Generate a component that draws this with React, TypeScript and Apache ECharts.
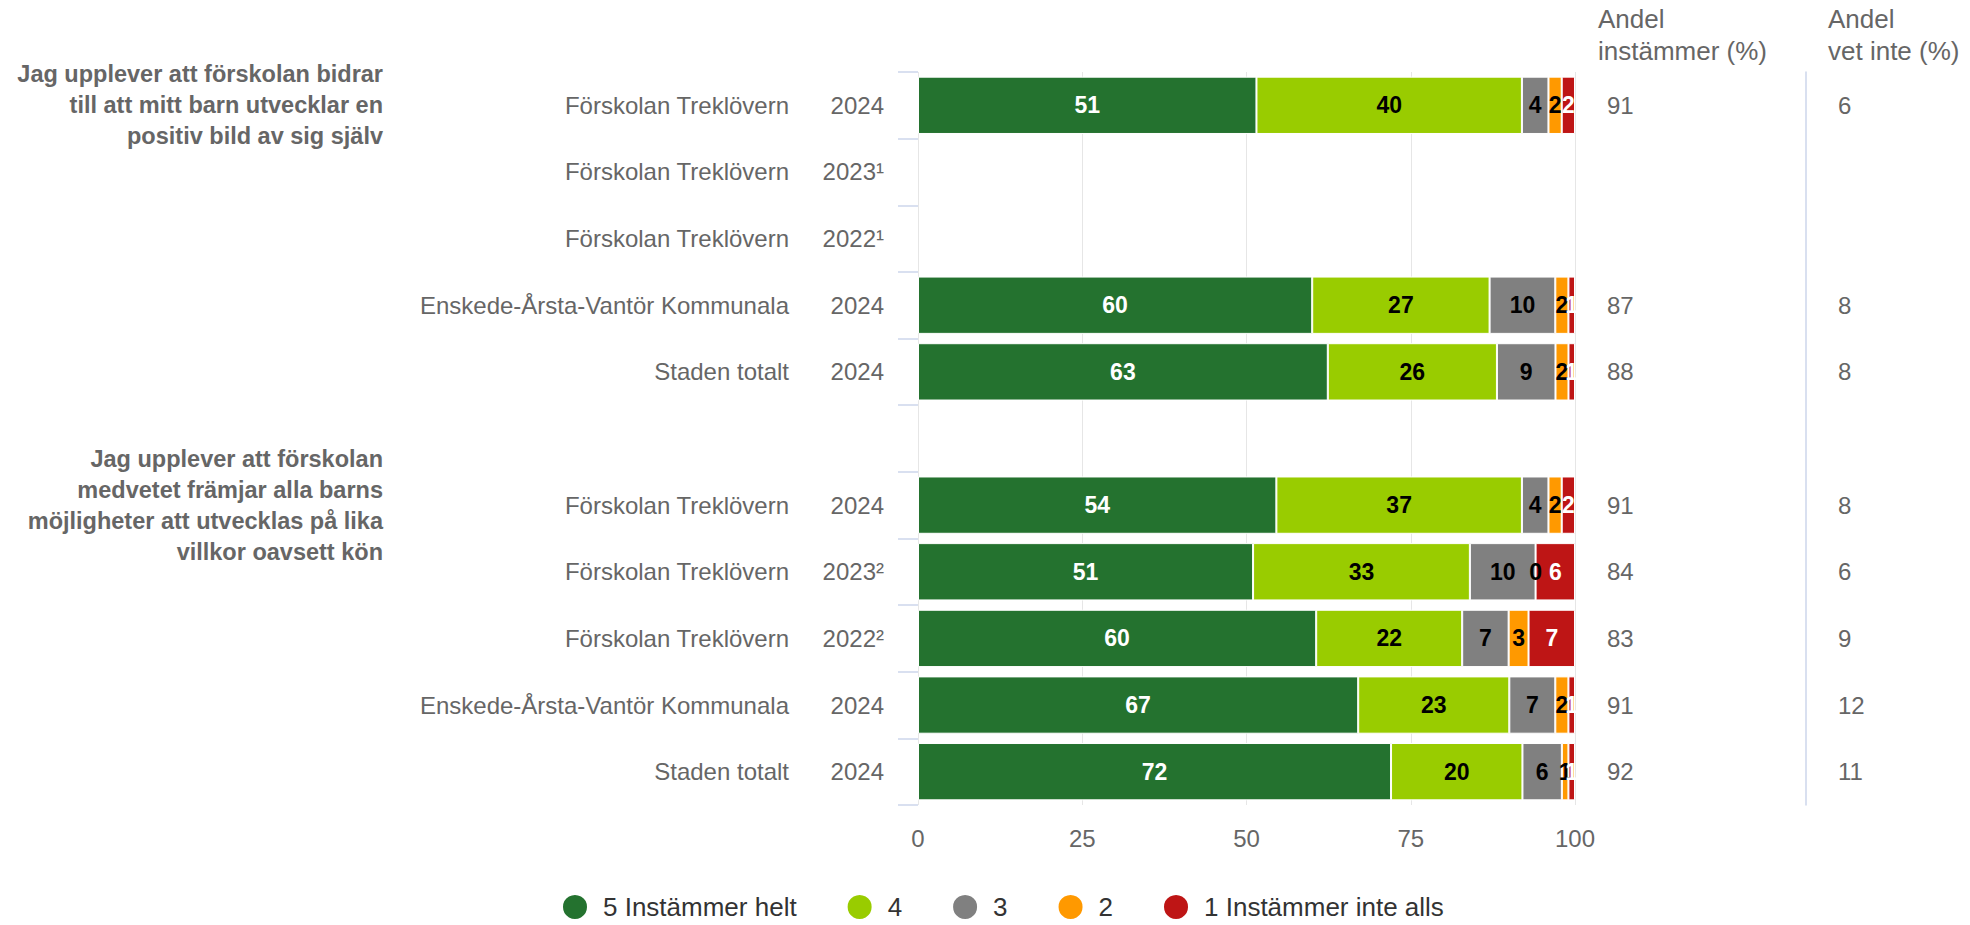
import React, { useEffect, useRef } from "react";
import * as echarts from "echarts";

const FONT = "'Liberation Sans', Arial, sans-serif";

const groupTitles = [
  "Jag upplever att förskolan bidrar\ntill att mitt barn utvecklar en\npositiv bild av sig själv",
  "", "", "", "", "",
  "Jag upplever att förskolan\nmedvetet främjar alla barns\nmöjligheter att utvecklas på lika\nvillkor oavsett kön",
  "", "", "", "",
];
const units = [
  "Förskolan Treklövern",
  "Förskolan Treklövern",
  "Förskolan Treklövern",
  "Enskede-Årsta-Vantör Kommunala",
  "Staden totalt",
  "",
  "Förskolan Treklövern",
  "Förskolan Treklövern",
  "Förskolan Treklövern",
  "Enskede-Årsta-Vantör Kommunala",
  "Staden totalt",
];
const years = ["2024", "2023¹", "2022¹", "2024", "2024", "", "2024", "2023²", "2022²", "2024", "2024"];

const seriesNames = ["5 Instämmer helt", "4", "3", "2", "1 Instämmer inte alls"];
const seriesColors = ["#24722F", "#99CC00", "#808080", "#FF9900", "#BE1515"];
const labelColors = ["#ffffff", "#000000", "#000000", "#000000", "#ffffff"];

const s5 = [51, null, null, 60, 63, null, 54, 51, 60, 67, 72];
const s4 = [40, null, null, 27, 26, null, 37, 33, 22, 23, 20];
const s3 = [4, null, null, 10, 9, null, 4, 10, 7, 7, 6];
const s2 = [2, null, null, 2, 2, null, 2, 0, 3, 2, 1];
const s1 = [2, null, null, 1, 1, null, 2, 6, 7, 1, 1];
const seriesValues = [s5, s4, s3, s2, s1];

const shareAgree = [91, null, null, 87, 88, null, 91, 84, 83, 91, 92];
const shareDontKnow = [6, null, null, 8, 8, null, 8, 6, 9, 12, 11];

const xTicks = { min: 0, max: 100, interval: 25 };

export default function App() {
  const ref = useRef<HTMLDivElement>(null);

  useEffect(() => {
    if (!ref.current) return;
    const chart = echarts.init(ref.current, undefined, { renderer: "svg" });

    const idx = years.map((_, i) => String(i));
    const totals = years.map((_, i) =>
      seriesValues.reduce((acc, arr) => acc + (arr[i] ?? 0), 0)
    );

    const baseCat = {
      type: "category" as const,
      inverse: true,
      data: idx,
      axisLine: { show: false },
      axisTick: { show: false },
      splitLine: { show: false },
    };

    const option: any = {
      animation: false,
      textStyle: { fontFamily: FONT },
      grid: { left: 918, right: 395, top: 72, bottom: 120, containLabel: false },
      legend: {
        data: seriesNames,
        icon: "circle",
        symbolKeepAspect: true,
        itemWidth: 46,
        itemHeight: 26,
        itemGap: 49,
        left: 556,
        top: 888,
        textStyle: { fontSize: 26, color: "#333333", fontFamily: FONT },
      },
      xAxis: {
        type: "value",
        min: xTicks.min,
        max: xTicks.max,
        interval: xTicks.interval,
        axisLine: { show: false },
        axisTick: { show: false },
        axisLabel: { fontSize: 24, color: "#666666", margin: 21, fontFamily: FONT },
        splitLine: { lineStyle: { color: "#e6e6e6", width: 1 } },
      },
      yAxis: [
        {
          ...baseCat,
          position: "left",
          axisTick: { show: true, length: 20, interval: 0, lineStyle: { color: "#ccd6eb", width: 1.5 } },
          axisLabel: {
            interval: 0,
            margin: 34,
            fontSize: 24,
            color: "#666666",
            fontFamily: FONT,
            formatter: (_v: string, i: number) => years[i],
          },
        },
        {
          ...baseCat,
          position: "left",
          offset: 95,
          axisLabel: {
            interval: 0,
            margin: 34,
            fontSize: 24,
            color: "#666666",
            fontFamily: FONT,
            formatter: (_v: string, i: number) => units[i],
          },
        },
        {
          ...baseCat,
          position: "left",
          offset: 0,
          axisLabel: {
            interval: 0,
            margin: 535,
            fontSize: 23.5,
            lineHeight: 31,
            fontWeight: "bold",
            color: "#666666",
            fontFamily: FONT,
            align: "right",
            formatter: (_v: string, i: number) => groupTitles[i],
          },
        },
        {
          ...baseCat,
          position: "right",
          offset: 0,
          axisLabel: {
            interval: 0,
            margin: 32,
            fontSize: 24,
            color: "#666666",
            fontFamily: FONT,
            formatter: (_v: string, i: number) => (shareAgree[i] == null ? "" : String(shareAgree[i])),
          },
        },
        {
          ...baseCat,
          position: "right",
          offset: 231,
          axisLine: { show: true, lineStyle: { color: "#ccd6eb", width: 1.5 } },
          axisLabel: {
            interval: 0,
            margin: 32,
            fontSize: 24,
            color: "#666666",
            fontFamily: FONT,
            formatter: (_v: string, i: number) => (shareDontKnow[i] == null ? "" : String(shareDontKnow[i])),
          },
        },
      ],
      graphic: [
        {
          type: "text",
          left: 1598,
          top: 3,
          style: {
            text: "Andel\ninstämmer (%)",
            fontSize: 26,
            lineHeight: 32,
            fill: "#666666",
            fontFamily: FONT,
          },
        },
        {
          type: "text",
          left: 1828,
          top: 3,
          style: {
            text: "Andel\nvet inte (%)",
            fontSize: 26,
            lineHeight: 32,
            fill: "#666666",
            fontFamily: FONT,
          },
        },
      ],
      series: seriesValues.map((arr, s) => ({
        name: seriesNames[s],
        type: "bar",
        stack: "total",
        yAxisIndex: 0,
        barCategoryGap: "14%",
        itemStyle: { color: seriesColors[s], borderColor: "#ffffff", borderWidth: 1 },
        label: {
          show: true,
          position: "inside",
          fontSize: 23,
          fontWeight: "bold",
          color: labelColors[s],
          fontFamily: FONT,
          formatter: (p: any) => String(arr[p.dataIndex]),
        },
        data: arr.map((v, i) => (v == null ? "-" : (v / totals[i]) * 100)),
      })),
    };

    chart.setOption(option);
    return () => chart.dispose();
  }, []);

  return (
    <div
      ref={ref}
      style={{ position: "fixed", left: 0, top: 0, width: 1970, height: 925, background: "#ffffff" }}
    />
  );
}
